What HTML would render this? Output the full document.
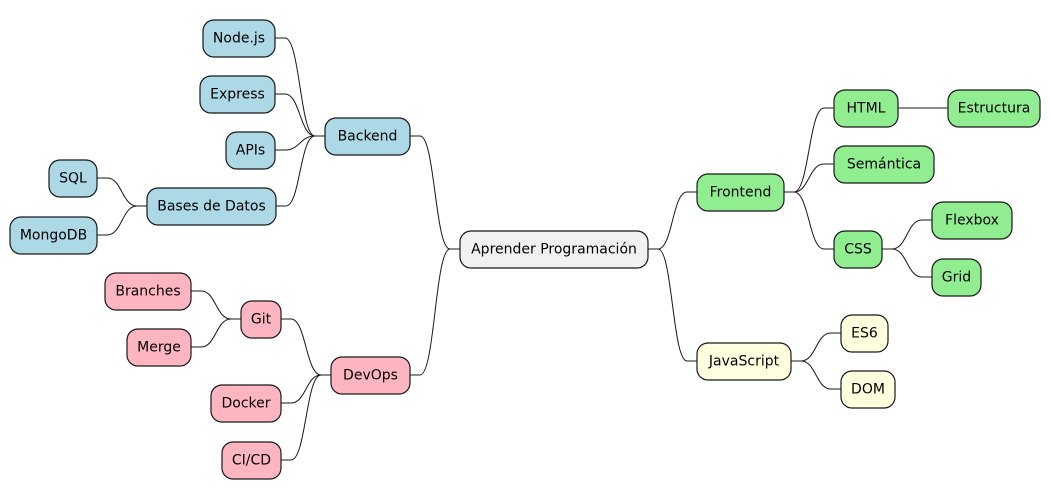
<!DOCTYPE html>
<html><head><meta charset="utf-8"><style>
html,body{margin:0;padding:0;background:#fff;}
svg text{font-family:"DejaVu Sans","Liberation Sans",sans-serif;font-size:14px;fill:#000;text-anchor:middle;dominant-baseline:central;}
.n{stroke:#181818;stroke-width:1.2;}
.g{fill:#90ee90}.b{fill:#add8e6}.p{fill:#ffb6c1}.y{fill:#ffffe0}.w{fill:#f1f1f1}
path{fill:none;stroke:#181818;stroke-width:1;}
</style></head><body>
<svg width="1051" height="499" viewBox="0 0 1051 499" xmlns="http://www.w3.org/2000/svg">
<path d="M648 249 H658 C672.5 249 672.5 192 687 192 H697"/>
<path d="M648 249 H658 C672.5 249 672.5 361 687 361 H697"/>
<path d="M784 192 H794 C809 192 809 108 824 108 H834"/>
<path d="M784 192 H794 C809 192 809 164 824 164 H834"/>
<path d="M784 192 H794 C809 192 809 249 824 249 H834"/>
<path d="M898 108 H948"/>
<path d="M882 249 H892 C907 249 907 220 922 220 H932"/>
<path d="M882 249 H892 C907 249 907 277 922 277 H932"/>
<path d="M791 361 H801 C816 361 816 333 831 333 H841"/>
<path d="M791 361 H801 C816 361 816 389 831 389 H841"/>
<path d="M460 249 H450 C435 249 435 136 420 136 H410"/>
<path d="M460 249 H450 C435 249 435 375 420 375 H410"/>
<path d="M325 136 H315 C300 136 300 38 285 38 H275"/>
<path d="M325 136 H315 C300 136 300 94 285 94 H275"/>
<path d="M325 136 H315 C300 136 300 150 285 150 H275"/>
<path d="M325 136 H315 C300 136 300 206 286 206 H276"/>
<path d="M147 206 H137 C122 206 122 178 107 178 H97"/>
<path d="M147 206 H137 C122 206 122 235 107 235 H97"/>
<path d="M331 375 H321 C306 375 306 319 291 319 H281"/>
<path d="M331 375 H321 C306 375 306 403 291 403 H281"/>
<path d="M331 375 H321 C306 375 306 460 291 460 H281"/>
<path d="M241 319 H231 C216 319 216 291 201 291 H191"/>
<path d="M241 319 H231 C216 319 216 347 201 347 H191"/>

<rect class="n w" x="460" y="231" width="188" height="37" rx="11"/><text x="554" y="249.5">Aprender Programación</text>
<rect class="n g" x="697" y="174" width="87" height="37" rx="11"/><text x="740.5" y="192.5">Frontend</text>
<rect class="n g" x="834" y="90" width="64" height="37" rx="11"/><text x="866" y="108.5">HTML</text>
<rect class="n g" x="948" y="90" width="92" height="37" rx="11"/><text x="994" y="108.5">Estructura</text>
<rect class="n g" x="834" y="146" width="100" height="37" rx="11"/><text x="884" y="164.5">Semántica</text>
<rect class="n g" x="834" y="231" width="48" height="37" rx="11"/><text x="858" y="249.5">CSS</text>
<rect class="n g" x="932" y="202" width="80" height="37" rx="11"/><text x="972" y="220.5">Flexbox</text>
<rect class="n g" x="932" y="259" width="49" height="37" rx="11"/><text x="956.5" y="277.5">Grid</text>
<rect class="n y" x="697" y="343" width="94" height="37" rx="11"/><text x="744" y="361.5">JavaScript</text>
<rect class="n y" x="841" y="315" width="47" height="37" rx="11"/><text x="864.5" y="333.5">ES6</text>
<rect class="n y" x="841" y="371" width="54" height="37" rx="11"/><text x="868" y="389.5">DOM</text>
<rect class="n b" x="325" y="118" width="85" height="37" rx="11"/><text x="367.5" y="136.5">Backend</text>
<rect class="n b" x="203" y="20" width="72" height="37" rx="11"/><text x="239" y="38.5">Node.js</text>
<rect class="n b" x="200" y="76" width="75" height="37" rx="11"/><text x="237.5" y="94.5">Express</text>
<rect class="n b" x="226" y="132" width="49" height="37" rx="11"/><text x="250.5" y="150.5">APIs</text>
<rect class="n b" x="147" y="188" width="129" height="37" rx="11"/><text x="211.5" y="206.5">Bases de Datos</text>
<rect class="n b" x="49" y="160" width="48" height="37" rx="11"/><text x="73" y="178.5">SQL</text>
<rect class="n b" x="10" y="217" width="87" height="37" rx="11"/><text x="53.5" y="235.5">MongoDB</text>
<rect class="n p" x="331" y="357" width="79" height="37" rx="11"/><text x="370.5" y="375.5">DevOps</text>
<rect class="n p" x="241" y="301" width="40" height="37" rx="11"/><text x="261" y="319.5">Git</text>
<rect class="n p" x="105" y="273" width="86" height="37" rx="11"/><text x="148" y="291.5">Branches</text>
<rect class="n p" x="127" y="329" width="64" height="37" rx="11"/><text x="159" y="347.5">Merge</text>
<rect class="n p" x="211" y="385" width="70" height="37" rx="11"/><text x="246" y="403.5">Docker</text>
<rect class="n p" x="222" y="442" width="59" height="37" rx="11"/><text x="251.5" y="460.5">CI/CD</text>
</svg>
</body></html>
